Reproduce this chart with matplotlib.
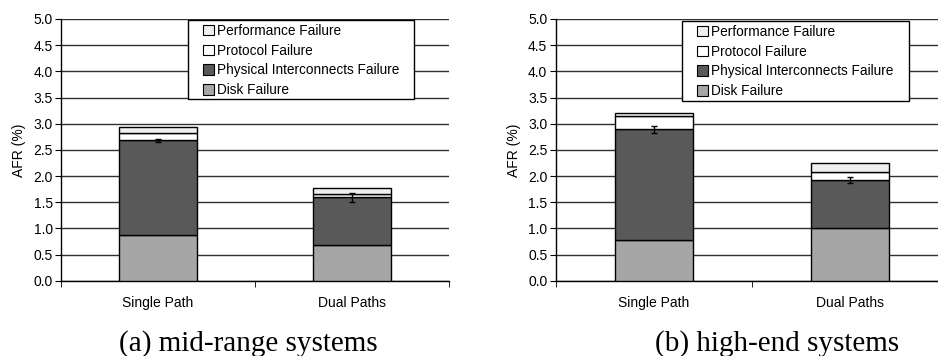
import matplotlib
matplotlib.use("Agg")
import matplotlib.pyplot as plt
import numpy as np
from matplotlib.patches import Patch, Rectangle

# AFR breakdown per path configuration (stacked from bottom)
paths = ["Single Path", "Dual Paths"]
segments = ["Disk Failure", "Physical Interconnects Failure",
            "Protocol Failure", "Performance Failure"]
colors = ["#a6a6a6", "#595959", "#ffffff", "#efefef"]

mid_disk = [0.87, 0.68]
mid_phys = [1.81, 0.91]
mid_proto = [0.14, 0.06]
mid_perf = [0.12, 0.13]
mid_err = [0.03, 0.09]

high_disk = [0.77, 1.01]
high_phys = [2.12, 0.91]
high_proto = [0.26, 0.15]
high_perf = [0.06, 0.17]
high_err = [0.07, 0.06]

panels = [
    ("(a) mid-range systems", [mid_disk, mid_phys, mid_proto, mid_perf], mid_err),
    ("(b) high-end systems", [high_disk, high_phys, high_proto, high_perf], high_err),
]

plt.rcParams["font.family"] = ["Liberation Sans", "DejaVu Sans"]

W, H = 938, 356
fig = plt.figure(figsize=(W / 100, H / 100), dpi=100)

axes_px = [(61, 388), (555.7, 392)]
legend_px = [(188, 20, 414, 99), (682, 21, 909, 101)]
caption_x = [248, 777]

for (caption, stack, err), (x0, w), lg, cx in zip(panels, axes_px, legend_px, caption_x):
    ax = fig.add_axes([x0 / W, (H - 280.7) / H, w / W, 261.7 / H])
    x = np.arange(len(paths))
    bottom = np.zeros(len(paths))
    for vals, col in zip(stack, colors):
        ax.bar(x, vals, 0.4, bottom=bottom, color=col, edgecolor="black",
               linewidth=1.0, zorder=3)
        bottom += np.array(vals)
    # error bars sit on top of the interconnect segment
    top_phys = np.array(stack[0]) + np.array(stack[1])
    ax.errorbar(x, top_phys, yerr=err, fmt="none", ecolor="black",
                elinewidth=1.0, capsize=2.5, capthick=1.0, zorder=4)

    ax.set_xlim(-0.5, 1.5)
    ax.set_ylim(0, 5)
    ax.set_yticks(np.arange(0, 5.01, 0.5))
    ax.set_yticklabels([f"{v:.1f}" for v in np.arange(0, 5.01, 0.5)], fontsize=10)
    ax.set_xticks(x)
    ax.set_xticklabels(paths, fontsize=10)
    ax.tick_params(axis="x", which="major", length=0, pad=11)
    ax.set_xticks([-0.5, 0.5, 1.5], minor=True)
    ax.tick_params(axis="x", which="minor", length=4, direction="out")
    ax.tick_params(axis="y", length=4, direction="out", pad=2)
    ax.grid(axis="y", color="#303030", linewidth=1.0, zorder=0)
    ax.set_axisbelow(True)
    for s in ["top", "right"]:
        ax.spines[s].set_visible(False)
    ax.spines["left"].set_linewidth(1.0)
    ax.spines["bottom"].set_linewidth(1.0)
    ax.set_ylabel("AFR (%)", fontsize=10, labelpad=5)

    # legend box drawn separately so it can be wider than its entries
    lx0, ly0, lx1, ly1 = lg
    fig.patches.append(Rectangle((lx0 / W, 1 - ly1 / H), (lx1 - lx0) / W,
                                 (ly1 - ly0) / H, transform=fig.transFigure,
                                 facecolor="white", edgecolor="black",
                                 linewidth=1.0, zorder=5))
    handles = [Patch(facecolor=c, edgecolor="black", linewidth=0.8, label=l)
               for c, l in zip(colors, segments)][::-1]
    leg = fig.legend(handles=handles, loc="upper left",
                     bbox_to_anchor=((lx0 + 15) / W, 1 - (ly0 + 4) / H),
                     fontsize=9.8, frameon=False, borderpad=0,
                     labelspacing=0.42, handlelength=0.8, handleheight=0.8,
                     handletextpad=0.2, borderaxespad=0)
    leg.set_zorder(6)

    fig.text(cx / W, 1 - 344 / H, caption, ha="center", va="center",
             fontsize=21, family=["Liberation Serif", "DejaVu Serif"])

fig.savefig("out.png", dpi=100)
